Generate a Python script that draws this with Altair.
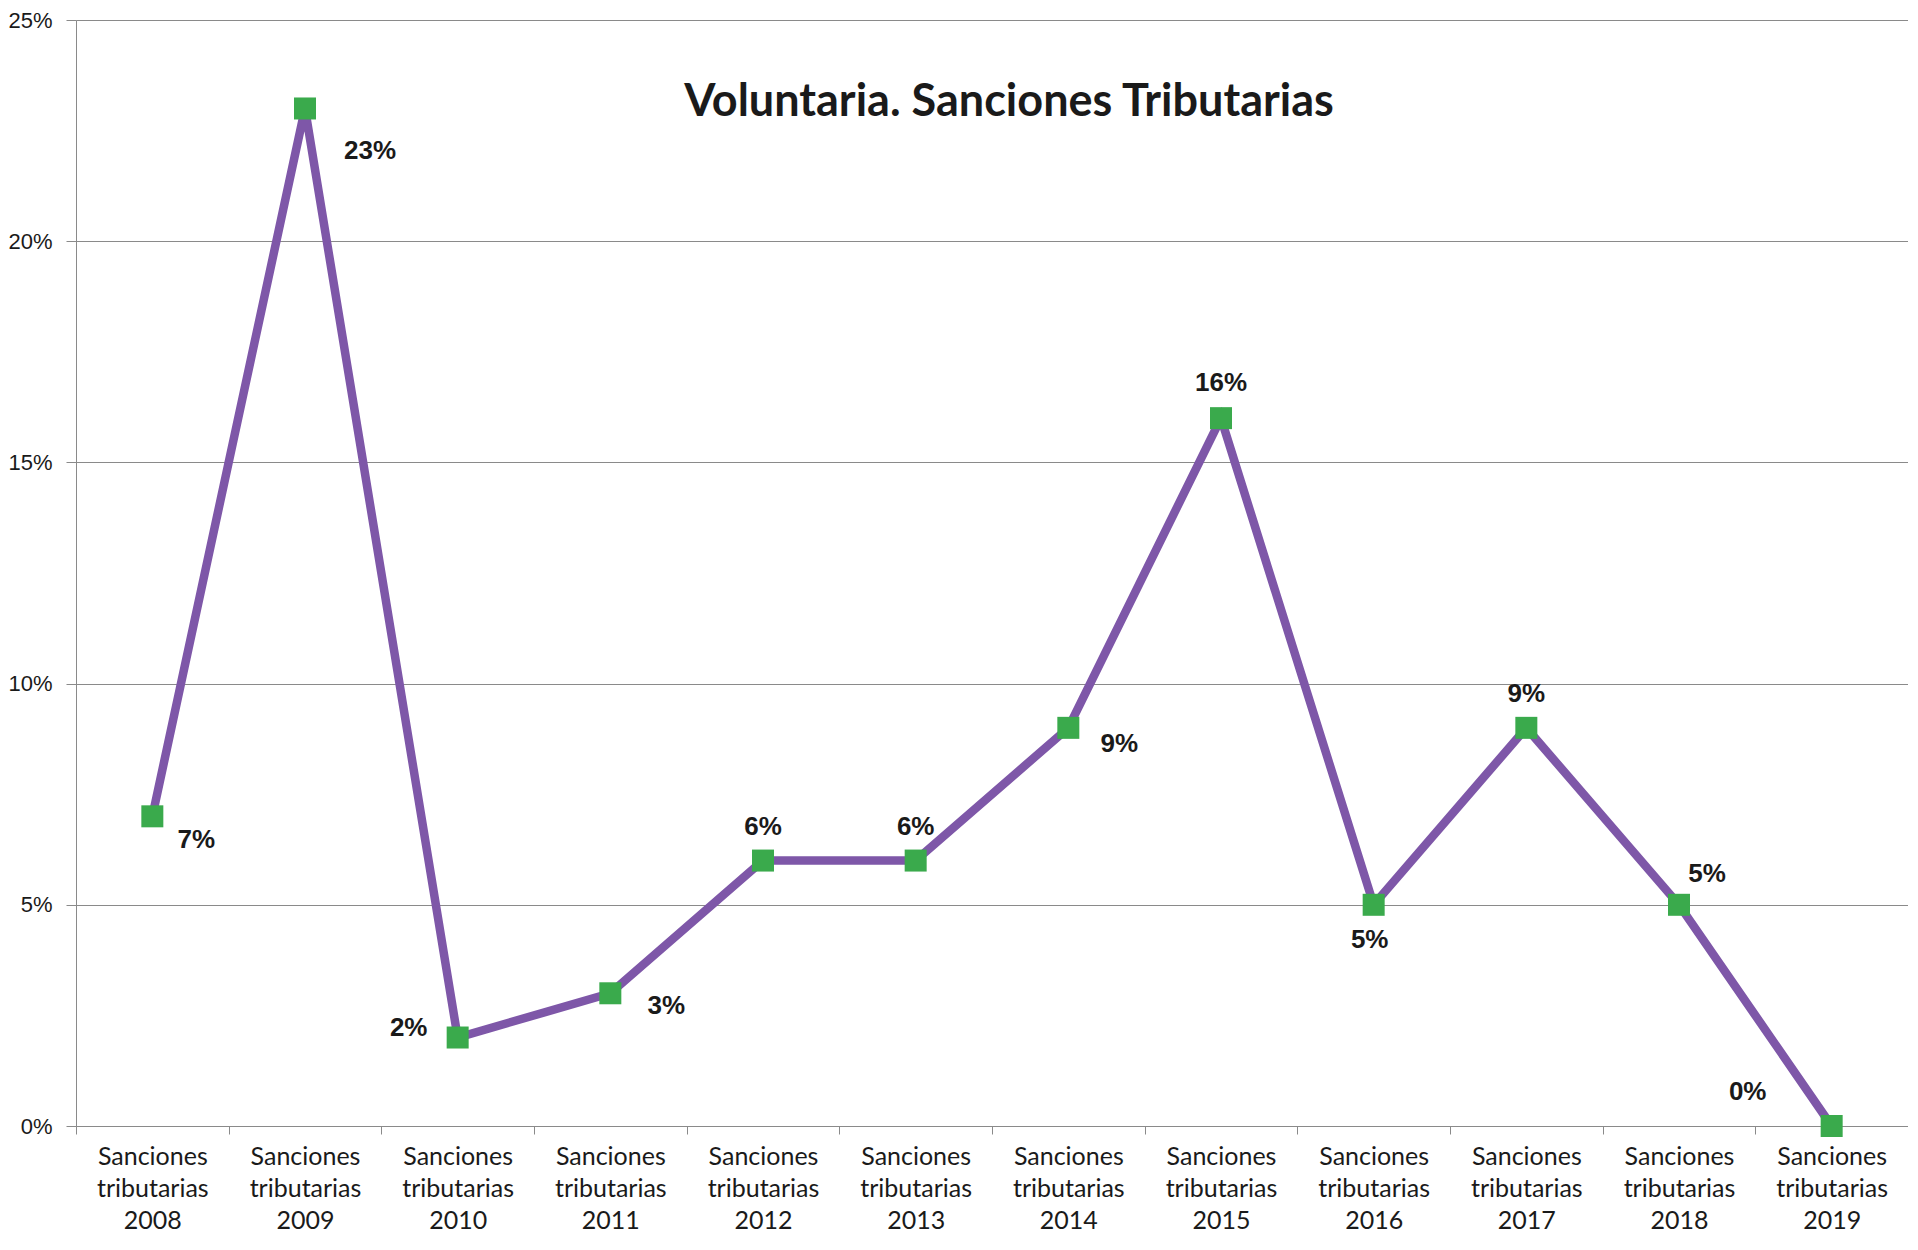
import altair as alt
import pandas as pd

# ---- data ----
years = ["2008", "2009", "2010", "2011", "2012", "2013",
         "2014", "2015", "2016", "2017", "2018", "2019"]
values = [7, 23, 2, 3, 6, 6, 9, 16, 5, 9, 5, 0]
value_labels = ["7%", "23%", "2%", "3%", "6%", "6%", "9%", "16%", "5%", "9%", "5%", "0%"]
categories = [f"Sanciones tributarias {y}" for y in years]
title_text = "Voluntaria. Sanciones Tributarias"

df = pd.DataFrame({
    "cat": categories,
    "year": years,
    "value": [v / 100 for v in values],
    "label": value_labels,
})

# ---- style ----
LINE_COLOR = "#7E57A8"
MARK_COLOR = "#3AAA4C"
GRID = "#8a8a8a"
TEXT = "#1a1a1a"
SANS = "Lato, Liberation Sans, sans-serif"
ARIAL = "Liberation Sans, Arial, sans-serif"

# label placement (dx, dy) per year
label_offsets = {
    "2008": (44, 24), "2009": (65, 43), "2010": (-49, -10), "2011": (56, 13),
    "2012": (0, -34), "2013": (0, -34), "2014": (51, 16), "2015": (0, -35),
    "2016": (-4, 35), "2017": (0, -34), "2018": (28, -31), "2019": (-84, -34),
}

x_enc = alt.X(
    "cat:N", sort=categories, title=None,
    scale=alt.Scale(type="band", paddingInner=0, paddingOuter=0),
    axis=alt.Axis(
        labelAngle=0,
        labelExpr="isValid(datum.value) && datum.value != '' ? split(datum.value, ' ') : ''",
        labelFont=SANS, labelFontSize=25, labelLineHeight=32, labelColor=TEXT,
        labelPadding=10, labelBaseline="top",
        tickBand="extent", tickSize=8, tickColor=GRID, domainColor=GRID,
        grid=False,
    ),
)
y_enc = alt.Y(
    "value:Q", title=None,
    scale=alt.Scale(domain=[0, 0.25]),
    axis=alt.Axis(
        values=[0, 0.05, 0.10, 0.15, 0.20, 0.25], format=".0%",
        labelFont=ARIAL, labelFontSize=22, labelColor=TEXT, labelPadding=14,
        tickSize=10, tickColor=GRID, domainColor=GRID,
        grid=True, gridColor=GRID, gridWidth=1,
    ),
)

base = alt.Chart(df)
line = base.mark_line(color=LINE_COLOR, strokeWidth=8.5).encode(x=x_enc, y=y_enc)
points = base.mark_square(color=MARK_COLOR, size=484, opacity=1).encode(x=x_enc, y=y_enc)

text_layers = []
groups = {}
for yr, off in label_offsets.items():
    groups.setdefault(off, []).append(yr)
for (dx, dy), yrs in groups.items():
    text_layers.append(
        base.transform_filter(alt.FieldOneOfPredicate(field="year", oneOf=yrs))
        .mark_text(font=ARIAL, fontSize=26, fontWeight="bold", color=TEXT,
                   align="center", baseline="middle", dx=dx, dy=dy)
        .encode(x=x_enc, y=y_enc, text="label:N")
    )

chart = alt.layer(line, points, *text_layers).properties(
    width=1832, height=1106,
    padding={"left": 68, "top": 12, "right": 0, "bottom": 114},
    autosize=alt.AutoSizeParams(type="none"),
    title=alt.TitleParams(
        title_text, font=SANS, fontSize=45, fontWeight="bold", color=TEXT,
        anchor="middle", frame="group", dx=17, dy=152, offset=0,
        baseline="alphabetic",
    ),
).configure_view(stroke=None).configure(background="white")

chart.save("out.html", embed_options={"renderer": "svg", "actions": False})
